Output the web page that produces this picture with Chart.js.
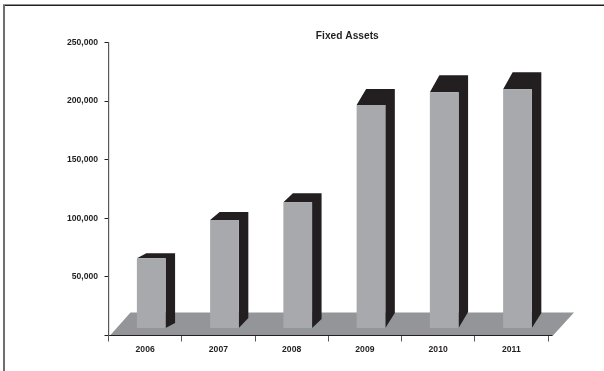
<!DOCTYPE html>
<html>
<head>
<meta charset="utf-8">
<style>
html,body{margin:0;padding:0;background:#fff;}
canvas{display:block;}
</style>
<script src="https://cdn.jsdelivr.net/npm/chart.js@4"></script>
</head>
<body>
<canvas id="c" width="604" height="371"></canvas>
<script>
const categories = ['2006','2007','2008','2009','2010','2011'];
const fixedAssets = [65900, 98500, 113700, 196700, 207500, 210100];
const chartTitle = 'Fixed Assets';

const barBase = 6400;
const barShift = 6.1;
const depthX = 9.5;
const topRise = [5, 8, 9, 16, 17, 17];
const baseRise = [5, 10, 9, 15, 16, 15];

const FONT = '"Liberation Sans", Arial, sans-serif';
const DARK = '#231f20', GREY = '#a7a9ac', FLOOR = '#939598', AXIS = '#58595b';

const depthPlugin = {
  id: 'depth',
  beforeDraw(chart) {
    const ctx = chart.ctx, a = chart.chartArea;
    ctx.save();
    // floor
    ctx.fillStyle = FLOOR;
    ctx.beginPath();
    ctx.moveTo(a.left + 1.5, a.bottom);
    ctx.lineTo(a.left + 22, a.bottom - 23);
    ctx.lineTo(a.right + 26, a.bottom - 23);
    ctx.lineTo(a.right + 5, a.bottom);
    ctx.closePath();
    ctx.fill();
    // frame (top and left rules only)
    ctx.fillStyle = DARK;
    ctx.fillRect(3, 4.5, 601, 1.5);
    ctx.fillStyle = '#6d6e71';
    ctx.fillRect(3, 5, 2, 366);
    ctx.restore();
  },
  beforeDatasetsDraw(chart) {
    const ctx = chart.ctx;
    ctx.save();
    ctx.translate(barShift, 0);
    const meta = chart.getDatasetMeta(0);
    ctx.fillStyle = DARK;
    meta.data.forEach((bar, i) => {
      const p = bar.getProps(['x', 'y', 'base', 'width'], true);
      const L = p.x - p.width / 2, R = p.x + p.width / 2;
      ctx.beginPath();
      ctx.moveTo(L, p.y);
      ctx.lineTo(L + depthX, p.y - topRise[i]);
      ctx.lineTo(R + depthX, p.y - topRise[i]);
      ctx.lineTo(R + depthX, p.base - baseRise[i]);
      ctx.lineTo(R, p.base);
      ctx.lineTo(R, p.y);
      ctx.closePath();
      ctx.fill();
    });
  },
  afterDatasetsDraw(chart) {
    chart.ctx.restore();
  },
  afterDraw(chart) {
    const ctx = chart.ctx, a = chart.chartArea;
    ctx.save();
    // x axis line runs on slightly past its last tick
    ctx.strokeStyle = DARK;
    ctx.lineWidth = 1;
    ctx.beginPath();
    ctx.moveTo(a.right, a.bottom);
    ctx.lineTo(a.right + 4.5, a.bottom);
    ctx.stroke();
    // title
    ctx.fillStyle = DARK;
    ctx.font = 'bold 10.2px ' + FONT;
    ctx.textAlign = 'center';
    ctx.textBaseline = 'middle';
    ctx.fillText(chartTitle, 347.3, 36.5);
    ctx.restore();
  }
};

new Chart(document.getElementById('c'), {
  type: 'bar',
  data: {
    labels: categories,
    datasets: [{
      label: chartTitle,
      data: fixedAssets,
      base: barBase,
      backgroundColor: GREY,
      borderWidth: 0,
      barPercentage: 0.392,
      categoryPercentage: 1
    }]
  },
  options: {
    responsive: false,
    animation: false,
    layout: { padding: { left: 8.5, right: 56, top: 42.5, bottom: 15.5 } },
    plugins: { legend: { display: false }, tooltip: { enabled: false } },
    scales: {
      x: {
        afterFit(s) { s.height = 20; },
        grid: { drawOnChartArea: false, drawTicks: true, tickLength: 6, color: AXIS, tickWidth: 1 },
        border: { display: true, color: DARK, width: 1 },
        ticks: { color: DARK, padding: 3, font: { family: FONT, size: 8.6, weight: 'bold' }, maxRotation: 0 }
      },
      y: {
        min: 0,
        max: 250000,
        afterFit(s) { s.width = 100; },
        grid: { drawOnChartArea: false, drawTicks: true, tickLength: 4, color: DARK, tickWidth: 1 },
        border: { display: true, color: AXIS, width: 1.2 },
        ticks: {
          stepSize: 50000,
          color: DARK,
          padding: 6.5,
          font: { family: FONT, size: 8.6, weight: 'bold' },
          callback: v => v === 0 ? '' : v.toLocaleString('en-US')
        }
      }
    }
  },
  plugins: [depthPlugin]
});
</script>
</body>
</html>
